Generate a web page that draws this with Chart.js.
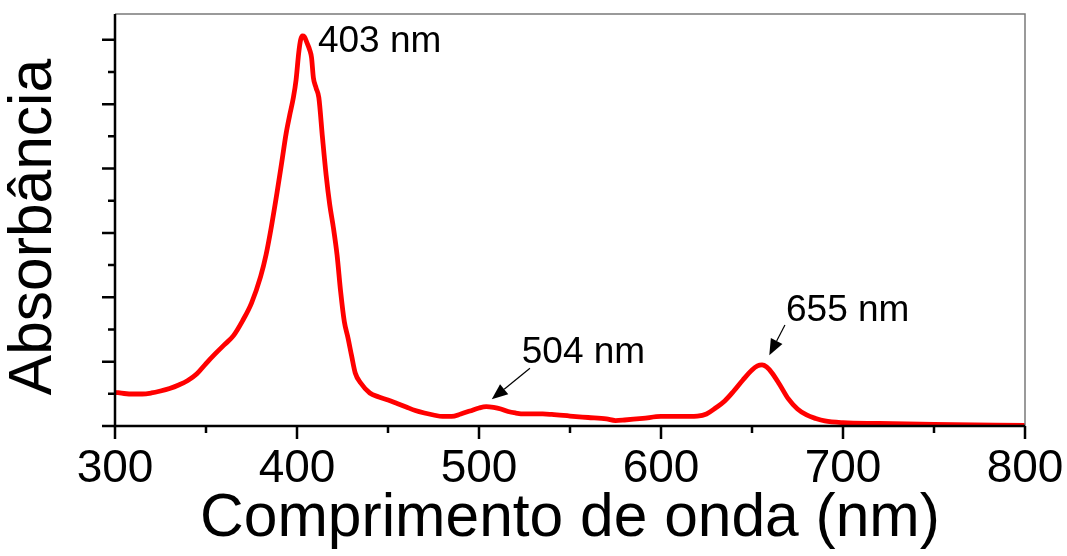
<!DOCTYPE html>
<html>
<head>
<meta charset="utf-8">
<script src="https://cdn.jsdelivr.net/npm/chart.js@4.4.0/dist/chart.umd.min.js"></script>
<style>
  html, body { margin: 0; padding: 0; background: #ffffff; }
  #wrap { width: 1067px; height: 556px; }
</style>
</head>
<body>
<div id="wrap"><canvas id="spectrum" width="1067" height="556"></canvas></div>
<script>
// UV-Vis absorption spectrum
const wavelength = [
  300, 305, 310, 315, 320, 325, 330, 335, 340, 345, 350, 355, 360, 365, 370, 375,
  380, 383, 386, 389, 392, 394, 396, 398, 399.5, 401, 402, 403, 404, 405.5, 407, 408,
  409, 410.5, 412, 414, 416, 418, 420, 422, 424, 426, 428, 430, 432, 435, 440, 445,
  450, 455, 460, 465, 470, 475, 480, 485, 490, 495, 500, 504, 508, 512, 516, 520,
  525, 530, 535, 540, 550, 560, 570, 575, 580, 590, 600, 610, 620, 625, 630, 635,
  640, 645, 650, 653, 655.5, 658, 661, 665, 670, 675, 680, 685, 690, 700, 720, 750, 800
];
const absorbance = [
  0.0524, 0.0505, 0.0497, 0.0497, 0.0513, 0.0544, 0.0583, 0.0637, 0.0707, 0.0812, 0.0970, 0.112, 0.126, 0.140, 0.163, 0.191,
  0.232, 0.266, 0.311, 0.362, 0.417, 0.454, 0.483, 0.510, 0.538, 0.581, 0.600, 0.606, 0.605, 0.595, 0.584, 0.572,
  0.541, 0.525, 0.510, 0.448, 0.390, 0.3435, 0.308, 0.266, 0.208, 0.162, 0.137, 0.109, 0.0824, 0.0668, 0.0513, 0.0451,
  0.0404, 0.0350, 0.0295, 0.0241, 0.0202, 0.0171, 0.0148, 0.0148, 0.0187, 0.0233, 0.0280, 0.0300, 0.0288, 0.0264, 0.0225, 0.0202,
  0.0187, 0.0187, 0.0187, 0.0179, 0.0155, 0.0132, 0.0109, 0.0085, 0.0093, 0.0117, 0.0148, 0.0148, 0.0155, 0.0187, 0.0280, 0.0389,
  0.0544, 0.0715, 0.0870, 0.0933, 0.0948, 0.0917, 0.0824, 0.0653, 0.0420, 0.0264, 0.0171, 0.0117, 0.0078, 0.0051, 0.0039, 0.0023, 0.0011
];

const xMajorTicks = [300, 400, 500, 600, 700, 800];
const xMinorTicks = [350, 450, 550, 650, 750];
const yMajorTicks = [0, 0.1, 0.2, 0.3, 0.4, 0.5, 0.6];
const yMinorTicks = [0.05, 0.15, 0.25, 0.35, 0.45, 0.55];

// Peak annotations (data units: wavelength / absorbance)
const peakLabels = ['403 nm', '504 nm', '655 nm'];
const peakLabelX = [411.5, 523.5, 668.7];
const peakLabelY = [0.581, 0.0984, 0.1637];
const arrowTailX = [null, 528.0, 668.1];
const arrowTailY = [null, 0.0897, 0.157];
const arrowHeadX = [null, 507.0, 659.5];
const arrowHeadY = [null, 0.0415, 0.110];

const yTitle = 'Absorbância';

const FONT = '"Liberation Sans", Arial, Helvetica, sans-serif';

const frameAndMarks = {
  id: 'frameAndMarks',
  afterDraw(chart) {
    const { ctx, chartArea: a, scales: { x, y } } = chart;
    ctx.save();

    // thin grey top and right edges
    ctx.strokeStyle = '#7a7a7a';
    ctx.lineWidth = 1.5;
    ctx.beginPath();
    ctx.moveTo(a.left, a.top);
    ctx.lineTo(a.right, a.top);
    ctx.lineTo(a.right, a.bottom);
    ctx.stroke();

    // black axis lines
    ctx.strokeStyle = '#000';
    ctx.lineWidth = 2.5;
    ctx.beginPath();
    ctx.moveTo(a.left, a.top);
    ctx.lineTo(a.left, a.bottom);
    ctx.lineTo(a.right, a.bottom);
    ctx.stroke();

    // outward ticks
    ctx.lineWidth = 2.5;
    ctx.beginPath();
    xMajorTicks.forEach(v => { const px = x.getPixelForValue(v); ctx.moveTo(px, a.bottom); ctx.lineTo(px, a.bottom + 13); });
    xMinorTicks.forEach(v => { const px = x.getPixelForValue(v); ctx.moveTo(px, a.bottom); ctx.lineTo(px, a.bottom + 7); });
    yMajorTicks.forEach(v => { const py = y.getPixelForValue(v); ctx.moveTo(a.left, py); ctx.lineTo(a.left - 13, py); });
    yMinorTicks.forEach(v => { const py = y.getPixelForValue(v); ctx.moveTo(a.left, py); ctx.lineTo(a.left - 7, py); });
    ctx.stroke();

    // vertical axis title
    ctx.save();
    ctx.fillStyle = '#000';
    ctx.font = '60.5px ' + FONT;
    ctx.textAlign = 'center';
    ctx.textBaseline = 'middle';
    ctx.translate(34, (a.top + a.bottom) / 2 + 7);
    ctx.rotate(-Math.PI / 2);
    ctx.fillText(yTitle, 0, 0);
    ctx.restore();

    // peak labels and arrows
    ctx.fillStyle = '#000';
    ctx.font = '37px ' + FONT;
    ctx.textAlign = 'left';
    ctx.textBaseline = 'alphabetic';
    peakLabels.forEach((t, i) => {
      ctx.fillText(t, x.getPixelForValue(peakLabelX[i]), y.getPixelForValue(peakLabelY[i]));
      if (arrowTailX[i] === null) return;
      const x0 = x.getPixelForValue(arrowTailX[i]), y0 = y.getPixelForValue(arrowTailY[i]);
      const x1 = x.getPixelForValue(arrowHeadX[i]), y1 = y.getPixelForValue(arrowHeadY[i]);
      const ang = Math.atan2(y1 - y0, x1 - x0);
      const hl = 16, hw = 6.5;
      const bx = x1 - hl * Math.cos(ang), by = y1 - hl * Math.sin(ang);
      ctx.lineWidth = 1.2;
      ctx.beginPath();
      ctx.moveTo(x0, y0);
      ctx.lineTo(bx, by);
      ctx.stroke();
      ctx.beginPath();
      ctx.moveTo(x1, y1);
      ctx.lineTo(bx + hw * Math.sin(ang), by - hw * Math.cos(ang));
      ctx.lineTo(bx - hw * Math.sin(ang), by + hw * Math.cos(ang));
      ctx.closePath();
      ctx.fill();
    });
    ctx.restore();
  }
};

new Chart(document.getElementById('spectrum'), {
  type: 'line',
  data: {
    datasets: [{
      data: wavelength.map((w, i) => ({ x: w, y: absorbance[i] })),
      borderColor: '#ff0000',
      borderWidth: 4.8,
      pointRadius: 0,
      fill: false,
      cubicInterpolationMode: 'monotone'
    }]
  },
  options: {
    responsive: false,
    devicePixelRatio: 1,
    animation: false,
    layout: { padding: { top: 14, right: 42, left: 0, bottom: 0 } },
    plugins: { legend: { display: false }, tooltip: { enabled: false } },
    scales: {
      x: {
        type: 'linear',
        min: 300,
        max: 800,
        afterBuildTicks: s => { s.ticks = xMajorTicks.map(v => ({ value: v })); },
        afterFit: s => { s.height = 130; s.paddingLeft = 0; s.paddingRight = 0; },
        grid: { display: false, drawTicks: false },
        border: { display: false },
        ticks: {
          color: '#000',
          padding: 16,
          maxRotation: 0,
          autoSkip: false,
          font: { family: FONT, size: 46 }
        },
        title: {
          display: true,
          text: 'Comprimento de onda (nm)',
          color: '#000',
          padding: { top: 0, bottom: 0 },
          font: { family: FONT, size: 60.5 }
        }
      },
      y: {
        type: 'linear',
        min: 0,
        max: 0.64,
        afterBuildTicks: s => { s.ticks = yMajorTicks.map(v => ({ value: v })); },
        afterFit: s => { s.width = 115; s.paddingTop = 0; s.paddingBottom = 0; },
        grid: { display: false, drawTicks: false },
        border: { display: false },
        ticks: { display: false },
        title: { display: false }
      }
    }
  },
  plugins: [frameAndMarks]
});
</script>
</body>
</html>
